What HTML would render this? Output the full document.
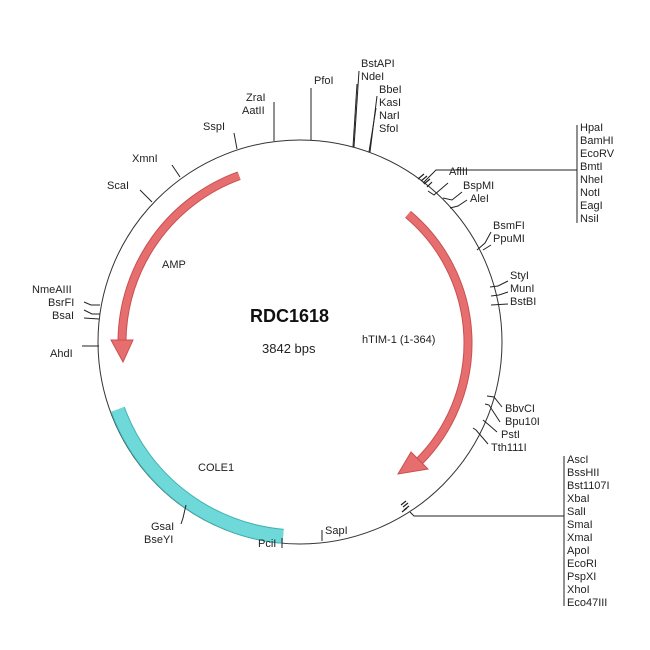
<!DOCTYPE html>
<html><head><meta charset="utf-8"><style>
html,body{margin:0;padding:0;background:#fff;}
svg{display:block;font-family:"Liberation Sans",Arial,sans-serif;}
text{font-size:11px;fill:#222;}
</style></head><body>
<svg width="650" height="650" viewBox="0 0 650 650" xmlns="http://www.w3.org/2000/svg">
<circle cx="300" cy="342" r="202" fill="none" stroke="#333" stroke-width="1"/>
<!-- COLE1 -->
<path d="M117.7,409.4 A194,194 0 0 0 283.1,536.3" fill="none" stroke="#3fb3b3" stroke-width="15"/>
<path d="M117.7,409.4 A194,194 0 0 0 283.1,536.3" fill="none" stroke="#6fd8d8" stroke-width="13"/>
<!-- AMP -->
<path d="M239.1,175.7 A178,178 0 0 0 122.0,339.9" fill="none" stroke="#c9504f" stroke-width="9"/>
<path d="M239.1,175.7 A178,178 0 0 0 122.0,339.9" fill="none" stroke="#e66e6e" stroke-width="7"/>
<polygon points="111,340 133,340 123,362" fill="#e66e6e" stroke="#c9504f" stroke-width="1"/>
<!-- hTIM -->
<path d="M408,214.3 A168,168 0 0 1 418.8,461.8" fill="none" stroke="#c9504f" stroke-width="9"/>
<path d="M408,214.3 A168,168 0 0 1 418.8,461.8" fill="none" stroke="#e66e6e" stroke-width="7"/>
<polygon points="411,452 428,469 398,474" fill="#e66e6e" stroke="#c9504f" stroke-width="1"/>

<g stroke="#222" stroke-width="1" fill="none">
<line x1="311" y1="88" x2="311" y2="140"/>
<line x1="359" y1="71" x2="354" y2="147"/>
<line x1="357" y1="84" x2="353" y2="147"/>
<line x1="377" y1="96" x2="370" y2="152"/>
<line x1="376" y1="108" x2="369" y2="152"/>
<line x1="274" y1="102" x2="274" y2="141"/>
<line x1="234" y1="133" x2="237" y2="149"/>
<line x1="172" y1="165" x2="180" y2="177"/>
<line x1="140" y1="190" x2="152" y2="202"/>
<polyline points="84,302 91,305 100,305"/>
<polyline points="84,310 92,314 100,314"/>
<polyline points="84,318 99,319"/>
<line x1="82" y1="346" x2="99" y2="346"/>
<polyline points="423,183 436,170 577,170"/>
<line x1="577" y1="125" x2="577" y2="223"/>
<polyline points="448,183 434,195 428,191"/>
<polyline points="462,192 452,200 443,198"/>
<polyline points="467,200 458,206 450,208"/>
<polyline points="491,232 485,243 477,250"/>
<polyline points="491,245 483,250"/>
<polyline points="508,281 498,286 490,287"/>
<polyline points="508,292 499,295 491,296"/>
<polyline points="508,304 491,305"/>
<polyline points="502,407 494,397 487,396"/>
<polyline points="500,422 489,405 485,404"/>
<polyline points="497,432 489,425 483,420"/>
<polyline points="488,444 476,430 473,428"/>
<polyline points="410,512 414,516 564,516"/>
<line x1="564" y1="456" x2="564" y2="606"/>
<line x1="322" y1="530" x2="322" y2="541"/>
<line x1="282" y1="538" x2="282" y2="548"/>
<polyline points="186,505 183,518 181,524"/>
</g>
<g stroke="#222" stroke-width="1.2">
<line x1="418" y1="179" x2="424" y2="174"/>
<line x1="421" y1="181" x2="427" y2="176"/>
<line x1="424" y1="184" x2="430" y2="179"/>
<line x1="427" y1="187" x2="432" y2="182"/>
<line x1="404" y1="510" x2="409" y2="506"/>
<line x1="403" y1="507" x2="408" y2="503"/>
<line x1="401" y1="505" x2="406" y2="501"/>
<line x1="402" y1="512" x2="407" y2="508"/>
</g>

<text x="250" y="322" style="font-size:18px;font-weight:bold;fill:#111">RDC1618</text>
<text x="262" y="353" style="font-size:13px">3842 bps</text>
<text x="362" y="343">hTIM-1 (1-364)</text>
<text x="162" y="268">AMP</text>
<text x="198" y="471">COLE1</text>

<text x="314" y="84">PfoI</text>
<text x="361" y="67">BstAPI</text>
<text x="361" y="80">NdeI</text>
<text x="379" y="93">BbeI</text>
<text x="379" y="106">KasI</text>
<text x="379" y="119">NarI</text>
<text x="379" y="132">SfoI</text>
<text x="246" y="101">ZraI</text>
<text x="242" y="114">AatII</text>
<text x="203" y="130">SspI</text>
<text x="132" y="162">XmnI</text>
<text x="107" y="189">ScaI</text>
<text x="32" y="293">NmeAIII</text>
<text x="48" y="306">BsrFI</text>
<text x="52" y="319">BsaI</text>
<text x="50" y="357">AhdI</text>
<text x="449" y="175">AflII</text>
<text x="463" y="189">BspMI</text>
<text x="470" y="202">AleI</text>
<text x="493" y="229">BsmFI</text>
<text x="493" y="242">PpuMI</text>
<text x="510" y="279">StyI</text>
<text x="510" y="292">MunI</text>
<text x="510" y="305">BstBI</text>
<text x="505" y="412">BbvCI</text>
<text x="505" y="425">Bpu10I</text>
<text x="501" y="438">PstI</text>
<text x="491" y="451">Tth111I</text>
<text x="325" y="534">SapI</text>
<text x="258" y="547">PciI</text>
<text x="151" y="530">GsaI</text>
<text x="144" y="543">BseYI</text>
<g>
<text x="580" y="131">HpaI</text>
<text x="580" y="144">BamHI</text>
<text x="580" y="157">EcoRV</text>
<text x="580" y="170">BmtI</text>
<text x="580" y="183">NheI</text>
<text x="580" y="196">NotI</text>
<text x="580" y="209">EagI</text>
<text x="580" y="222">NsiI</text>
</g>
<g>
<text x="567" y="463">AscI</text>
<text x="567" y="476">BssHII</text>
<text x="567" y="489">Bst1107I</text>
<text x="567" y="502">XbaI</text>
<text x="567" y="515">SalI</text>
<text x="567" y="528">SmaI</text>
<text x="567" y="541">XmaI</text>
<text x="567" y="554">ApoI</text>
<text x="567" y="567">EcoRI</text>
<text x="567" y="580">PspXI</text>
<text x="567" y="593">XhoI</text>
<text x="567" y="606">Eco47III</text>
</g>
</svg>
</body></html>
